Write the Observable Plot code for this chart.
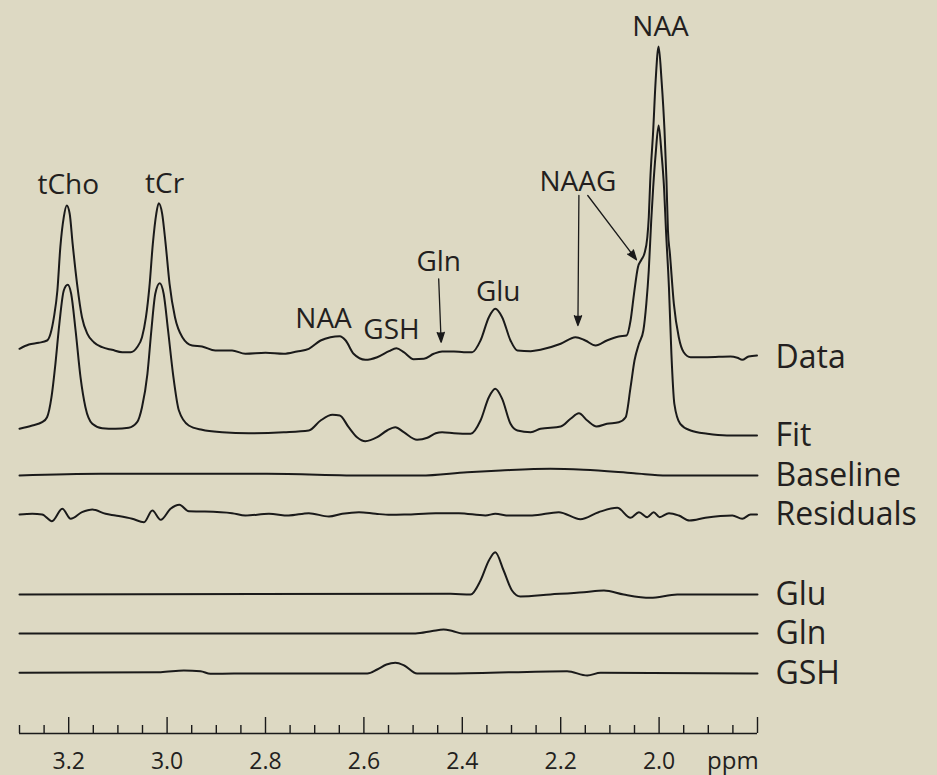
<!DOCTYPE html>
<html>
<head>
<meta charset="utf-8">
<script src="https://cdn.jsdelivr.net/npm/d3@7"></script>
<script src="https://cdn.jsdelivr.net/npm/@observablehq/plot@0.6"></script>
<style>
  html, body { margin: 0; padding: 0; background: #ddd9c3; overflow: hidden; }
  #chart svg { display: block; }
</style>
</head>
<body>
<div id="chart"></div>
<script>
// ---- Trace names and vertical offsets (arbitrary units) ----
const traceNames   = ["Data", "Fit", "Baseline", "Residuals", "Glu", "Gln", "GSH"];
const traceOffsets = [418, 340, 300, 261, 181, 142, 102];

// ---- Data spectrum (ppm, amplitude a.u.) ----
const dataPpm = [3.300,3.281,3.261,3.244,3.237,3.230,3.223,3.217,3.210,3.204,3.198,3.192,3.183,3.173,3.162,3.149,3.132,3.112,3.091,3.074,3.061,3.051,3.043,3.036,3.029,3.022,3.017,3.010,3.003,2.995,2.984,2.969,2.949,2.929,2.902,2.868,2.841,2.800,2.763,2.736,2.712,2.688,2.668,2.649,2.637,2.621,2.597,2.573,2.549,2.534,2.519,2.499,2.478,2.458,2.441,2.417,2.397,2.380,2.363,2.346,2.333,2.319,2.302,2.288,2.261,2.241,2.200,2.170,2.150,2.129,2.106,2.082,2.066,2.058,2.051,2.043,2.036,2.030,2.024,2.021,2.018,2.012,2.007,2.001,1.995,1.989,1.985,1.982,1.978,1.970,1.960,1.950,1.936,1.902,1.855,1.841,1.831,1.818,1.801];
const dataAmp = [8.7,13,14.7,17,23.7,40.3,67,110.3,140.3,152,143.7,113.7,73.7,40.3,23.7,15.3,10.3,7.7,5.3,5.3,10.3,20.3,40.3,70.3,113.7,143.7,154.3,143.7,113.7,73.7,40.3,20.3,12,11,7,7,3.7,4.7,3.7,6,8.7,17,20.3,21.3,17,3.7,-2.3,0.3,6.3,9.3,5.3,-1.7,-1.3,3.7,6,6,5.3,5.3,17,40.3,48.7,40.3,17,7,6.3,7.7,13.7,20.3,17,12,17,21,22,37,63.7,90.3,97.7,103.7,120,140,177,227,277,311,277,227,177,127,103.7,53.7,20.3,5.3,0.3,0.3,1,-0.3,-2.3,1,2];

// ---- Fit ----
const fitPpm = [3.300,3.274,3.254,3.244,3.235,3.227,3.219,3.210,3.202,3.195,3.186,3.176,3.166,3.152,3.132,3.105,3.078,3.061,3.051,3.040,3.032,3.024,3.015,3.007,2.998,2.988,2.976,2.956,2.929,2.888,2.834,2.763,2.712,2.688,2.664,2.649,2.631,2.614,2.597,2.573,2.553,2.536,2.519,2.492,2.471,2.454,2.441,2.417,2.383,2.363,2.346,2.333,2.319,2.302,2.288,2.261,2.241,2.200,2.180,2.163,2.146,2.127,2.106,2.082,2.068,2.058,2.050,2.041,2.032,2.026,2.021,2.016,2.012,2.007,2.001,1.995,1.990,1.986,1.980,1.975,1.969,1.957,1.936,1.902,1.862,1.801];
const fitAmp = [6.7,10,13.3,18.3,38.3,71.7,111.7,145,150.7,141.7,105,58.3,28.3,11.7,7.3,6.7,7.7,13.3,28.3,61.7,105,141.7,152.3,141.7,105,61.7,25,10,5.7,3.3,2.3,3.3,5,15,20.7,20,8.3,-1.7,-5.7,-1.7,5,8.3,3.3,-4.3,-2.3,2.3,3.3,2.3,1.7,15,38.3,46.7,36.7,11.7,5,3.3,6.7,9,16.7,22.3,15,9,11.7,13.3,18.3,48.3,75,91.7,105,131.7,165,215,248.3,281.7,310,281.7,248.3,205,148.3,81.7,31.7,11.7,5,1.7,0,0];

// ---- Baseline ----
const basePpm = [3.300,3.135,2.797,2.593,2.485,2.390,2.322,2.221,2.153,2.051,1.984,1.800];
const baseAmp = [0,1.7,1.7,0,0,3.3,5,6.7,5.7,2.3,0,0];

// ---- Residuals ----
const resPpm = [3.300,3.274,3.254,3.234,3.213,3.196,3.173,3.152,3.125,3.105,3.071,3.047,3.030,3.013,2.993,2.975,2.956,2.929,2.868,2.841,2.793,2.753,2.712,2.671,2.644,2.610,2.576,2.546,2.515,2.454,2.407,2.353,2.333,2.305,2.258,2.204,2.160,2.123,2.085,2.058,2.041,2.024,2.011,1.999,1.980,1.960,1.938,1.906,1.851,1.831,1.814,1.801];
const resAmp = [0,0.7,0,-6.7,5.7,-4.3,2.3,5,0.7,-1,-4.3,-7.7,4,-5.3,5.7,9.7,3.3,3,1.3,-1,0.7,-1,1.3,-2,0.7,2.3,0.7,-0.3,0,1.3,1.3,-1,0.7,-1,-1,2.3,-4.7,2.3,6.7,-3.3,2.3,-2.7,2.3,-2.7,1.3,-1,-6,-3.3,-1,-4.3,0,0];

// ---- Glu component ----
const gluPpm = [3.300,2.424,2.383,2.363,2.346,2.333,2.316,2.299,2.282,2.221,2.153,2.112,2.072,2.018,1.963,1.800];
const gluAmp = [0,0.7,0,14,34,42.3,24,4,-2,0,2.3,4,0,-3.3,0,0];

// ---- Gln component ----
const glnPpm = [3.300,2.495,2.461,2.438,2.420,2.400,1.800];
const glnAmp = [0,0,2.5,4,2.5,0,0];

// ---- GSH component ----
const gshPpm = [3.300,3.013,2.966,2.932,2.912,2.864,2.593,2.573,2.554,2.536,2.518,2.492,2.424,2.187,2.146,2.119,1.800];
const gshAmp = [0.7,1.3,3,2.3,-0.3,0,0,4,9,10.7,8,0,0,2.3,-2,0.7,0];

// ---- Peak labels ----
const peakLabels = ["tCho", "tCr", "NAA", "NAA", "GSH", "Gln", "Glu", "NAAG"];
const peakLabelPpm = [3.201, 3.005, 1.997, 2.682, 2.544, 2.448, 2.327, 2.165];
const peakLabelY = [582, 583, 740, 448, 437, 505, 475, 585];

// ---- Annotation arrows ----
const arrowPpm1 = [2.448, 2.163, 2.145];
const arrowY1   = [496.7, 580, 580];
const arrowPpm2 = [2.443, 2.165, 2.046];
const arrowY2   = [433.3, 450, 515.7];

// ---- Axis ----
const majorTicks = [3.2, 3.0, 2.8, 2.6, 2.4, 2.2, 2.0, 1.8];
const minorTicks = [3.30,3.25,3.15,3.10,3.05,2.95,2.90,2.85,2.75,2.70,2.65,2.55,2.50,2.45,2.35,2.30,2.25,2.15,2.10,2.05,1.95,1.90,1.85];
const tickLabelValues = [3.2, 3.0, 2.8, 2.6, 2.4, 2.2, 2.0];
const tickLabels = ["3.2", "3.0", "2.8", "2.6", "2.4", "2.2", "2.0"];
const unitLabel = "ppm";
const unitLabelPpm = 1.85;
const axisLevel = 42;

// ---- build table ----
const series = [
  [dataPpm, dataAmp], [fitPpm, fitAmp], [basePpm, baseAmp], [resPpm, resAmp],
  [gluPpm, gluAmp], [glnPpm, glnAmp], [gshPpm, gshAmp]
];
const rows = [];
series.forEach(([p, a], i) => {
  p.forEach((v, j) => rows.push({trace: traceNames[i], ppm: v, y: traceOffsets[i] + a[j]}));
});
const endLabels = traceNames.map((n, i) => ({name: n, ppm: 1.8, y: traceOffsets[i]}));
const peaks = peakLabels.map((n, i) => ({name: n, ppm: peakLabelPpm[i], y: peakLabelY[i]}));
const arrows = arrowPpm1.map((v, i) => ({x1: v, y1: arrowY1[i], x2: arrowPpm2[i], y2: arrowY2[i]}));
const ink = "#1a1a1a";
const textInk = "#231f20";

const chart = Plot.plot({
  width: 937,
  height: 775,
  marginLeft: 19,
  marginRight: 180,
  marginTop: 0,
  marginBottom: 42,
  x: {domain: [3.3, 1.8], axis: null},
  y: {domain: [42, 775], axis: null},
  style: {background: "#ddd9c3", fontFamily: "'Open Sans', sans-serif", color: textInk, overflow: "visible"},
  marks: [
    Plot.line(rows, {x: "ppm", y: "y", z: "trace", curve: "monotone-x", stroke: ink, strokeWidth: 2}),
    Plot.text(endLabels, {x: "ppm", y: "y", text: "name", dx: 18, textAnchor: "start", lineAnchor: "middle", fontSize: 32, fill: textInk}),
    Plot.text(peaks, {x: "ppm", y: "y", text: "name", textAnchor: "middle", lineAnchor: "bottom", fontSize: 28, fill: textInk}),
    Plot.arrow(arrows, {x1: "x1", y1: "y1", x2: "x2", y2: "y2", stroke: ink, fill: ink, strokeWidth: 1.3, headLength: 12, headAngle: 40}),
    Plot.ruleY([axisLevel], {x1: 3.3, x2: 1.8, stroke: ink, strokeWidth: 1.6}),
    Plot.ruleX(majorTicks, {y1: axisLevel, y2: axisLevel + 16, stroke: ink, strokeWidth: 1.4}),
    Plot.ruleX(minorTicks, {y1: axisLevel, y2: axisLevel + 8, stroke: ink, strokeWidth: 1.4}),
    Plot.text(tickLabelValues, {x: d => d, y: axisLevel, text: (d, i) => tickLabels[i], dy: 35, lineAnchor: "bottom", fontSize: 23, fill: textInk}),
    Plot.text([unitLabel], {x: unitLabelPpm, y: axisLevel, text: d => d, dy: 35, lineAnchor: "bottom", fontSize: 24, fill: textInk})
  ]
});
document.getElementById("chart").appendChild(chart);
</script>
</body>
</html>
